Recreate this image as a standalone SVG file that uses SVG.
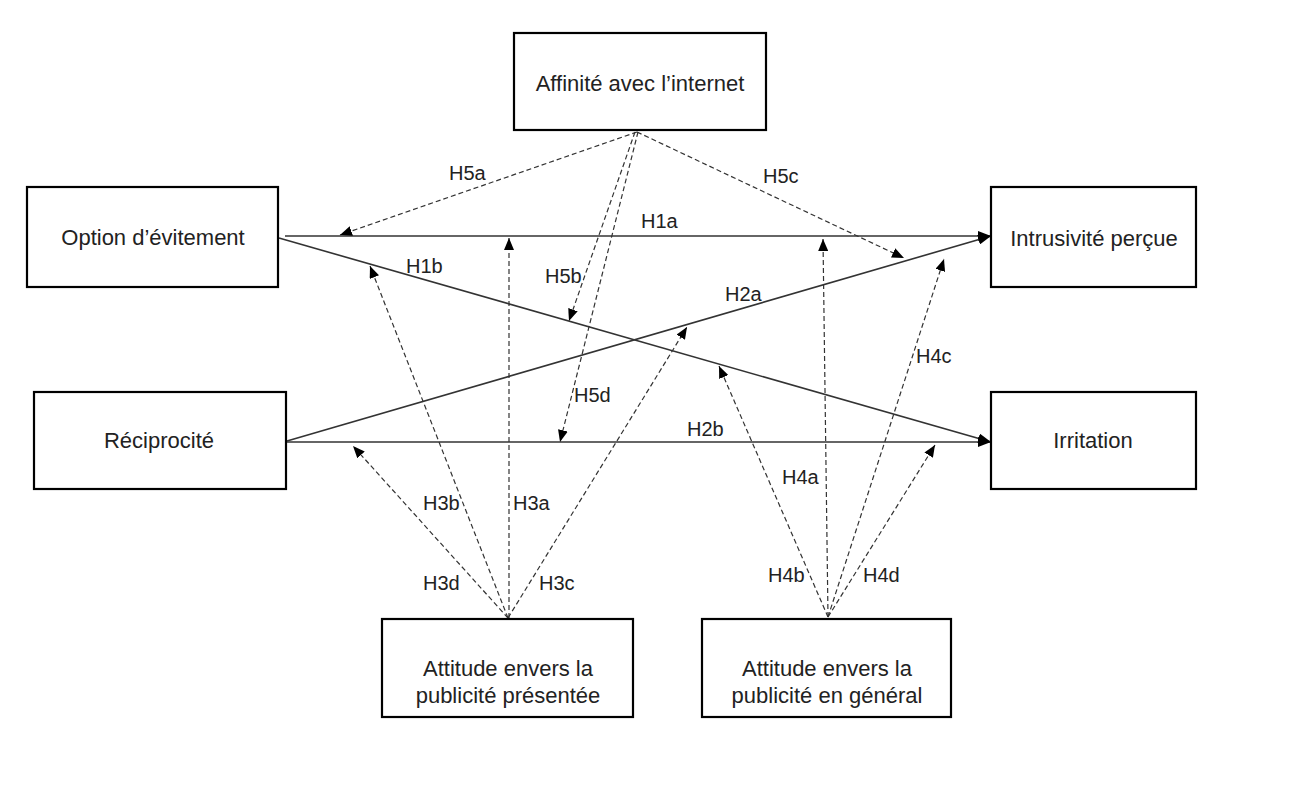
<svg xmlns="http://www.w3.org/2000/svg" width="1291" height="801" viewBox="0 0 1291 801">
<style>
.box{fill:#fff;stroke:#000;stroke-width:2.2}
.bt{font-family:"Liberation Sans",Arial,sans-serif;font-size:22px;fill:#222;text-anchor:middle}
.lb{font-family:"Liberation Sans",Arial,sans-serif;font-size:20px;fill:#222}
.solid{stroke:#333;stroke-width:1.6;fill:none}
.dash{stroke:#333;stroke-width:1.2;stroke-dasharray:5 3;fill:none}
</style>
<defs>
<marker id="aS" markerUnits="userSpaceOnUse" viewBox="0 0 13 10" refX="13" refY="5" markerWidth="13" markerHeight="10" orient="auto"><path d="M0,0 L13,5 L0,10 z" fill="#000"/></marker>
<marker id="aD" markerUnits="userSpaceOnUse" viewBox="0 0 12 10" refX="12" refY="5" markerWidth="12" markerHeight="10" orient="auto"><path d="M0,0 L12,5 L0,10 z" fill="#000"/></marker>
</defs>
<rect width="1291" height="801" fill="#fff"/>
<g id="connectors">
<line class="solid" x1="285" y1="236" x2="991" y2="236" marker-end="url(#aS)"/>
<line class="solid" x1="279" y1="238" x2="991" y2="442" marker-end="url(#aS)"/>
<line class="solid" x1="287" y1="441" x2="991" y2="236" marker-end="url(#aS)"/>
<line class="solid" x1="287" y1="442" x2="991" y2="442" marker-end="url(#aS)"/>
<line class="dash" x1="637" y1="132" x2="340" y2="235" marker-end="url(#aD)"/>
<line class="dash" x1="637" y1="132" x2="904" y2="258" marker-end="url(#aD)"/>
<line class="dash" x1="635" y1="132" x2="569" y2="321" marker-end="url(#aD)"/>
<line class="dash" x1="638" y1="132" x2="560" y2="442" marker-end="url(#aD)"/>
<line class="dash" x1="509" y1="618" x2="509" y2="238" marker-end="url(#aD)"/>
<line class="dash" x1="508" y1="618" x2="370" y2="266" marker-end="url(#aD)"/>
<line class="dash" x1="508" y1="618" x2="687" y2="327" marker-end="url(#aD)"/>
<line class="dash" x1="508" y1="618" x2="353" y2="446" marker-end="url(#aD)"/>
<line class="dash" x1="828" y1="617" x2="823" y2="239" marker-end="url(#aD)"/>
<line class="dash" x1="828" y1="617" x2="719" y2="366" marker-end="url(#aD)"/>
<line class="dash" x1="828" y1="617" x2="944" y2="259" marker-end="url(#aD)"/>
<line class="dash" x1="828" y1="617" x2="935" y2="445" marker-end="url(#aD)"/>
</g>
<g id="labels">
<text class="lb" x="449" y="180">H5a</text>
<text class="lb" x="763" y="183">H5c</text>
<text class="lb" x="641" y="228">H1a</text>
<text class="lb" x="406" y="273">H1b</text>
<text class="lb" x="545" y="283">H5b</text>
<text class="lb" x="725" y="301">H2a</text>
<text class="lb" x="916" y="363">H4c</text>
<text class="lb" x="574" y="402">H5d</text>
<text class="lb" x="687" y="436">H2b</text>
<text class="lb" x="782" y="484">H4a</text>
<text class="lb" x="423" y="510">H3b</text>
<text class="lb" x="513" y="510">H3a</text>
<text class="lb" x="423" y="590">H3d</text>
<text class="lb" x="539" y="590">H3c</text>
<text class="lb" x="768" y="582">H4b</text>
<text class="lb" x="863" y="582">H4d</text>
</g>
<g id="affinite"><rect class="box" x="514" y="33" width="252" height="97"/><text class="bt" x="640" y="91">Affinité avec l’internet</text></g>
<g id="option"><rect class="box" x="27" y="187" width="251" height="100"/><text class="bt" x="153" y="245">Option d’évitement</text></g>
<g id="reciprocite"><rect class="box" x="34" y="392" width="252" height="97"/><text class="bt" x="159" y="448">Réciprocité</text></g>
<g id="intrusivite"><rect class="box" x="991" y="187" width="205" height="100"/><text class="bt" x="1094" y="246">Intrusivité perçue</text></g>
<g id="irritation"><rect class="box" x="991" y="392" width="205" height="97"/><text class="bt" x="1093" y="448">Irritation</text></g>
<g id="att-presentee"><rect class="box" x="382" y="619" width="251" height="98"/><text class="bt" x="508" y="676">Attitude envers la</text><text class="bt" x="508" y="703">publicité présentée</text></g>
<g id="att-general"><rect class="box" x="702" y="619" width="249" height="98"/><text class="bt" x="827" y="676">Attitude envers la</text><text class="bt" x="827" y="703">publicité en général</text></g>
</svg>
